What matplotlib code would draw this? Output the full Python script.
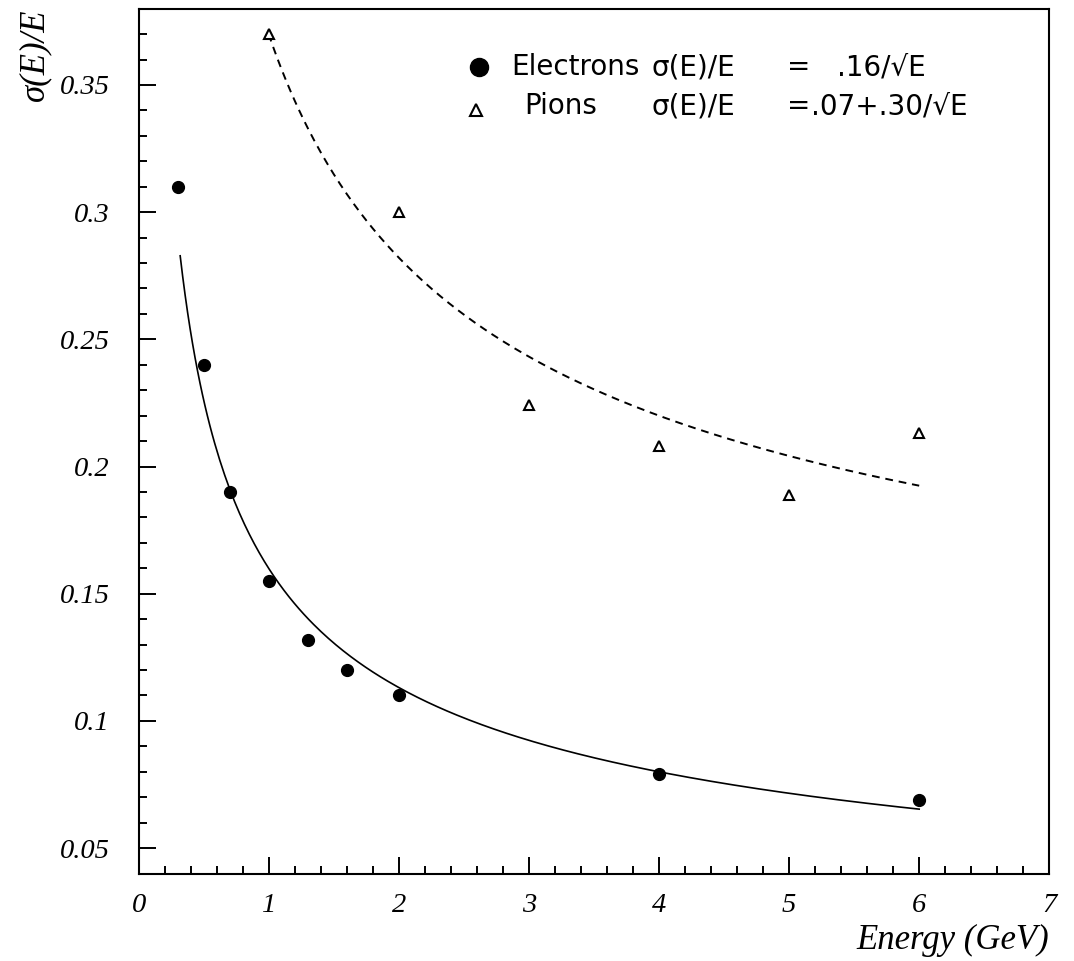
import numpy as np
import matplotlib
matplotlib.use('Agg')
import matplotlib.pyplot as plt
from matplotlib import ticker

# measured points
e_energy = [0.3, 0.5, 0.7, 1.0, 1.3, 1.6, 2.0, 4.0, 6.0]
e_res = [0.310, 0.240, 0.190, 0.155, 0.132, 0.120, 0.110, 0.079, 0.069]

pi_energy = [1.0, 2.0, 3.0, 4.0, 5.0, 6.0]
pi_res = [0.370, 0.300, 0.224, 0.208, 0.189, 0.213]

# fit parameters as printed in the legend
e_a, e_b = 0.0, 0.16
pi_a, pi_b = 0.07, 0.30
e_fit_range = (0.32, 6.0)
pi_fit_range = (1.0, 6.0)

serif = 'Liberation Serif'
sans = 'DejaVu Sans'

fig = plt.figure(figsize=(10.74, 9.61), dpi=100)
ax = fig.add_axes([0.129, 0.091, 0.848, 0.9])

ef = np.linspace(e_fit_range[0], e_fit_range[1], 300)
ax.plot(ef, e_a + e_b / np.sqrt(ef), color='black', linewidth=1.2)
pf = np.linspace(pi_fit_range[0], pi_fit_range[1], 300)
ax.plot(pf, pi_a + pi_b / np.sqrt(pf), color='black', linewidth=1.4,
        linestyle=(0, (4, 3)))

ax.plot(e_energy, e_res, 'o', color='black', markersize=8.5, linestyle='none')
ax.plot(pi_energy, pi_res, '^', markerfacecolor='white', markeredgecolor='black',
        markeredgewidth=1.5, markersize=7, linestyle='none')

ax.set_xlim(0, 7)
ax.set_ylim(0.04, 0.38)
ax.xaxis.set_major_locator(ticker.MultipleLocator(1))
ax.xaxis.set_minor_locator(ticker.MultipleLocator(0.2))
ax.yaxis.set_major_locator(ticker.FixedLocator([0.05, 0.1, 0.15, 0.2, 0.25, 0.3, 0.35]))
ax.yaxis.set_minor_locator(ticker.MultipleLocator(0.01))
ax.xaxis.set_major_formatter(ticker.FuncFormatter(lambda v, p: '%g' % v))
ax.yaxis.set_major_formatter(ticker.FuncFormatter(lambda v, p: '%g' % round(v, 2)))

ax.tick_params(which='both', direction='in', top=False, right=False, width=1.4)
ax.tick_params(which='major', length=12)
ax.tick_params(which='minor', length=6)
ax.tick_params(axis='y', which='major', pad=21)
ax.tick_params(axis='x', which='major', pad=14)
for lab in ax.get_xticklabels() + ax.get_yticklabels():
    lab.set_fontfamily(serif)
    lab.set_fontstyle('italic')
    lab.set_fontsize(20.5)
for s in ax.spines.values():
    s.set_linewidth(1.5)

ax.set_xlabel('Energy (GeV)', fontfamily=serif, fontstyle='italic', fontsize=25,
              loc='right', labelpad=4)
ax.set_ylabel('σ(E)/E', fontfamily=serif, fontstyle='italic', fontsize=25,
              loc='top', labelpad=6)

# legend drawn by hand, like the original
row1, row2 = 0.932, 0.887
ax.plot([0.374], [row1], 'o', color='black', markersize=13, transform=ax.transAxes)
ax.plot([0.371], [row2 - 0.004], '^', markerfacecolor='white', markeredgecolor='black',
        markeredgewidth=1.5, markersize=8, transform=ax.transAxes)
legend_txt = [
    (0.409, row1, 'Electrons'),
    (0.563, row1, 'σ(E)/E'),
    (0.712, row1, '='),
    (0.767, row1, '.16/√E'),
    (0.424, row2, 'Pions'),
    (0.563, row2, 'σ(E)/E'),
    (0.712, row2, '='),
    (0.738, row2, '.07+.30/√E'),
]
for tx, ty, s in legend_txt:
    ax.text(tx, ty, s, transform=ax.transAxes, fontfamily=sans, fontsize=20,
            va='center')

fig.savefig('out.png', dpi=100)
